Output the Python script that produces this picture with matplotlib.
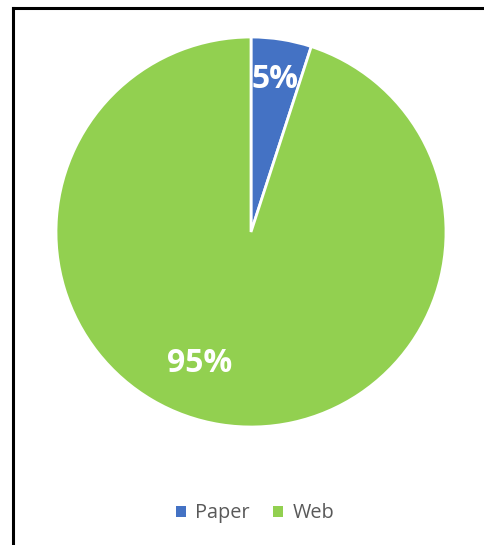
import matplotlib.pyplot as plt
from matplotlib.lines import Line2D

labels = ['Paper', 'Web']
values = [5, 95]
colors = ['#4472C4', '#92D050']

fig = plt.figure(figsize=(4.84, 5.45), dpi=100)
ax = fig.add_axes([0.1157, 0.2165, 0.8058, 0.7156])

wedges, texts, autotexts = ax.pie(values, colors=colors, startangle=90, counterclock=False,
                                  autopct='%d%%', pctdistance=0.79,
                                  wedgeprops=dict(edgecolor='white', linewidth=2, clip_on=False),
                                  textprops=dict(color='white', fontsize=23, fontweight='bold',
                                                 family='Open Sans'))
# move the big label where the original has it
autotexts[1].set_position((-0.262, -0.672))
ax.set_xlim(-1, 1)
ax.set_ylim(-1, 1)
ax.set_aspect('equal')
ax.axis('off')

leg = fig.legend(wedges, labels, loc='center', bbox_to_anchor=(0.527, 0.058), ncol=2,
                 frameon=False, handlelength=0.5, handleheight=0.5, handletextpad=0.45,
                 columnspacing=1.2, prop=dict(family='Open Sans', size=14.3))
for t in leg.get_texts():
    t.set_color('#595959')
for h in leg.legend_handles:
    h.set_edgecolor('none')

# frame lines (top and left only)
fig.add_artist(Line2D([12.5 / 484, 1], [1 - 7.5 / 545] * 2, color='black', lw=2.2,
                      transform=fig.transFigure))
fig.add_artist(Line2D([12.5 / 484] * 2, [0, 1 - 7.5 / 545], color='black', lw=2.2,
                      transform=fig.transFigure))

fig.savefig('out.png', dpi=100)
